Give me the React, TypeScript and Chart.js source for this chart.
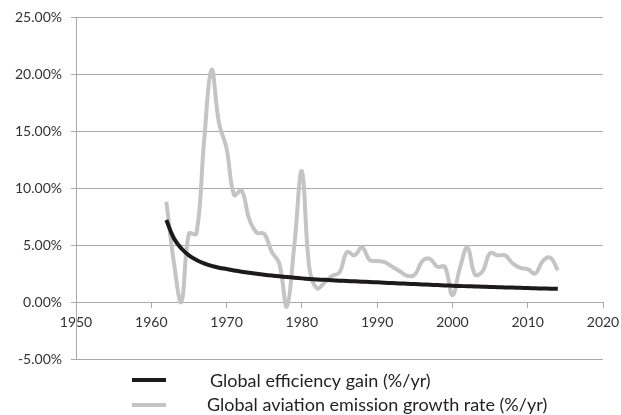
import React, { useEffect, useRef } from "react";
import { Chart, registerables } from "chart.js";

Chart.register(...registerables);

const years = [
  1962, 1963, 1964, 1965, 1966, 1967, 1968, 1969, 1970, 1971, 1972, 1973, 1974,
  1975, 1976, 1977, 1978, 1979, 1980, 1981, 1982, 1983, 1984, 1985, 1986, 1987,
  1988, 1989, 1990, 1991, 1992, 1993, 1994, 1995, 1996, 1997, 1998, 1999, 2000,
  2001, 2002, 2003, 2004, 2005, 2006, 2007, 2008, 2009, 2010, 2011, 2012, 2013,
  2014,
];

const efficiencyGain = [
  7.2, 5.6, 4.7, 4.1, 3.7, 3.4, 3.18, 3.02, 2.9, 2.78, 2.67, 2.57, 2.48, 2.4,
  2.33, 2.26, 2.2, 2.14, 2.08, 2.03, 1.99, 1.95, 1.91, 1.88, 1.85, 1.82, 1.79,
  1.76, 1.73, 1.7, 1.67, 1.64, 1.61, 1.58, 1.55, 1.52, 1.49, 1.46, 1.43, 1.41,
  1.39, 1.37, 1.35, 1.33, 1.31, 1.29, 1.27, 1.25, 1.23, 1.21, 1.19, 1.18, 1.16,
];

const emissionGrowth = [
  8.8, 3.5, 0.0, 6.0, 6.0, 14.0, 20.4, 15.7, 13.5, 9.4, 9.8, 7.3, 6.1, 6.0, 4.4,
  3.4, -0.4, 5.0, 11.5, 3.0, 1.2, 1.7, 2.3, 2.6, 4.4, 4.1, 4.8, 3.7, 3.6, 3.5,
  3.1, 2.7, 2.3, 2.4, 3.6, 3.8, 3.1, 3.1, 0.6, 3.0, 4.8, 2.4, 2.7, 4.3, 4.1,
  4.1, 3.4, 3.0, 2.9, 2.5, 3.6, 3.9, 2.8,
];

const xTickValues = [1950, 1960, 1970, 1980, 1990, 2000, 2010, 2020];
const yTickValues = [-5, 0, 5, 10, 15, 20, 25];

const seriesNames = [
  "Global efficiency gain (%/yr)",
  "Global aviation emission growth rate (%/yr)",
];

const FONT = "Lato, 'Open Sans', sans-serif";
const GRID = "#a9a9a9";
const BLACK = "#1c1a1a";
const GREY = "#c4c4c4";

const legendPlugin = {
  id: "customLegend",
  afterDraw(chart: any) {
    const ctx = chart.ctx as CanvasRenderingContext2D;
    const items = [
      { color: BLACK, lineY: 380, textX: 210, textY: 381 },
      { color: GREY, lineY: 405, textX: 207, textY: 405 },
    ];
    ctx.save();
    items.forEach((it, i) => {
      ctx.strokeStyle = it.color;
      ctx.lineWidth = 4;
      ctx.lineCap = "butt";
      ctx.beginPath();
      ctx.moveTo(132, it.lineY);
      ctx.lineTo(166, it.lineY);
      ctx.stroke();
      ctx.fillStyle = "#231f20";
      ctx.font = `18px ${FONT}`;
      ctx.textBaseline = "middle";
      ctx.textAlign = "left";
      ctx.fillText(seriesNames[i], it.textX, it.textY);
    });
    ctx.restore();
  },
};

export default function App() {
  const ref = useRef<HTMLCanvasElement>(null);

  useEffect(() => {
    document.body.style.margin = "0";
    const canvas = ref.current!;
    const chart = new Chart(canvas, {
      type: "line",
      data: {
        datasets: [
          {
            label: seriesNames[0],
            data: years.map((y, i) => ({ x: y, y: efficiencyGain[i] })),
            borderColor: BLACK,
            borderWidth: 4,
            pointRadius: 0,
            tension: 0.4,
            fill: false,
          },
          {
            label: seriesNames[1],
            data: years.map((y, i) => ({ x: y, y: emissionGrowth[i] })),
            borderColor: GREY,
            borderWidth: 4,
            pointRadius: 0,
            tension: 0.4,
            fill: false,
          },
        ],
      },
      options: {
        responsive: false,
        animation: false,
        layout: { padding: { left: 0, right: 18, top: 4, bottom: 56 } },
        plugins: {
          legend: { display: false },
          tooltip: { enabled: false },
        },
        scales: {
          x: {
            type: "linear",
            position: { y: 0 } as any,
            min: xTickValues[0],
            max: xTickValues[xTickValues.length - 1],
            afterBuildTicks: (scale: any) => {
              scale.ticks = xTickValues.map((v) => ({ value: v }));
            },
            afterFit: (scale: any) => {
              scale.paddingLeft = 0;
              scale.paddingRight = 0;
            },
            ticks: {
              callback: (v: any) => String(v),
              color: "#333",
              font: { family: FONT, size: 14 },
              padding: 7,
              maxRotation: 0,
            },
            grid: {
              drawOnChartArea: false,
              drawTicks: true,
              tickLength: 5,
              color: GRID,
            },
            border: { display: true, color: GRID, width: 1 },
          },
          y: {
            min: yTickValues[0],
            max: yTickValues[yTickValues.length - 1],
            afterBuildTicks: (scale: any) => {
              scale.ticks = yTickValues.map((v) => ({ value: v }));
            },
            afterFit: (scale: any) => {
              scale.width = 76;
            },
            ticks: {
              callback: (v: any) => `${Number(v).toFixed(2)}%`,
              color: "#333",
              font: { family: FONT, size: 14 },
              padding: 9,
            },
            grid: {
              color: GRID,
              lineWidth: 1,
              tickLength: 5,
            },
            border: { display: true, color: GRID, width: 1 },
          },
        },
      },
      plugins: [legendPlugin],
    });
    return () => chart.destroy();
  }, []);

  return <canvas ref={ref} width={621} height={415} style={{ display: "block" }} />;
}
